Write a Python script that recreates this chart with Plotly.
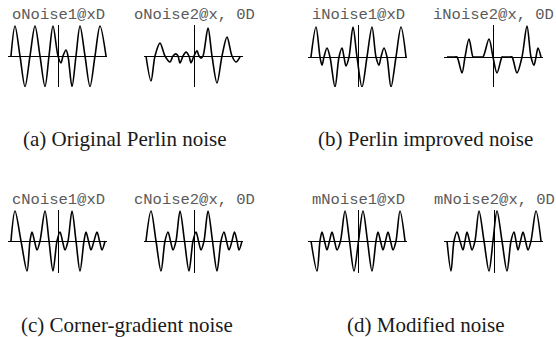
import plotly.graph_objects as go

W, H = 556, 337

# ---------------- data ----------------
# x: position along the noise axis (0 = vertical reference line); y: noise value (normalised)
onoise1_x = [-47, -43, -38, -33, -28, -23, -18, -13, -9, -5, 0, 3, 5, 8, 10, 14, 18, 22, 27, 32, 37, 42, 48]
onoise1_y = [0, 1, 0, -1.02, 0, 1, 0, -1.02, 0, 1, 0, -0.23, 0, 0.2, 0, -1.02, 0, 1, 0, -1.02, 0, 1, 0]

onoise2_x = [-48, -43, -39, -34, -29, -24, -21, -18, -16, -14, -11, -8, -5, -3, 0, 3, 5, 7, 9, 14, 18, 23, 28, 33, 38, 42, 46]
onoise2_y = [0, -0.83, 0, 0.43, 0, -0.2, 0, 0.07, 0, -0.23, 0, 0.13, 0, -0.23, 0, 0.17, 0, -0.07, 0, 0.93, 0, -0.9, 0, 0.63, 0, -0.2, -0.03]

inoise1_x = [-47, -42, -38, -36, -34, -31, -28, -23, -19, -16, -14, -12, -9, -5, -1, 4, 9, 14, 18, 21, 23, 26, 29, 33, 38, 43, 48]
inoise1_y = [0, 1, 0, -0.27, 0, 0.3, 0, -1, 0, 0.3, 0, -0.3, 0, 1, 0, -1, 0, 1, 0, -0.27, 0, 0.3, 0, -1, 0, 1, 0]

inoise2_x = [-46, -38, -36, -31, -28, -24, -20, -19, -12, -10, -4, 0, 4, 9, 10, 17, 19, 24, 29, 34, 38, 41, 43, 45, 48]
inoise2_y = [0, 0, 0, -0.53, 0, 0.6, 0, 0, 0, 0, 0.6, 0, -0.53, 0, 0, 0, 0, -0.53, 0, 1.03, 0, -0.27, 0, 0.3, 0]

cnoise1_x = [-47, -43, -37, -31, -28, -26, -23.5, -21, -18, -13, -9, -5, -1, 2, 4.5, 7, 10, 14, 18, 22, 26, 28, 30.5, 33, 36, 39, 41.5, 44, 47]
cnoise1_y = [0, 1, 0, -1, 0, 0.3, 0, -0.3, 0, 1, 0, -1, 0, 0.3, 0, -0.3, 0, 1, 0, -1, 0, 0.3, 0, -0.3, 0, 0.3, 0, -0.3, 0]

cnoise2_x = [-48, -43, -38, -33, -29, -26, -23.5, -21, -18, -14, -9.5, -5, -1, 2, 4.5, 7, 10, 14, 18.5, 23, 27, 30, 32.5, 35, 38, 40.5, 43, 45, 48]
cnoise2_y = [0, 1, 0, -1, 0, 0.3, 0, -0.3, 0, 1, 0, -1, 0, 0.3, 0, -0.3, 0, 1, 0, -1, 0, 0.3, 0, -0.3, 0, 0.3, 0, -0.3, 0]

mnoise1_x = [-47, -41, -38, -36, -33.5, -31, -28.5, -26, -23.5, -21, -17.5, -13, -8.5, -4, 0.5, 5, 9.5, 14, 18, 20, 22.5, 25, 27.5, 30, 32.5, 35, 38, 42, 47]
mnoise1_y = [0, -1, 0, 0.3, 0, -0.3, 0, 0.3, 0, -0.3, 0, 1, 0, -1, 0, 1, 0, -1, 0, 0.3, 0, -0.3, 0, 0.3, 0, -0.3, 0, 1, 0]

mnoise2_x = [-47, -43, -40, -37, -34, -31, -29, -27, -24.5, -22, -19, -15, -10, -5, -1, 3, 8, 13, 17, 20, 22, 24, 26.5, 29, 31.5, 34, 37, 42, 47]
mnoise2_y = [0, -1, 0, 0.3, 0, -0.3, 0, 0.3, 0, -0.3, 0, 1, 0, -1, 0, 1, 0, -1, 0, 0.3, 0, -0.3, 0, 0.3, 0, -0.3, 0, 1, 0]

titles = ["oNoise1@xD", "oNoise2@x, 0D", "iNoise1@xD", "iNoise2@x, 0D",
          "cNoise1@xD", "cNoise2@x, 0D", "mNoise1@xD", "mNoise2@x, 0D"]
captions = ["(a) Original Perlin noise", "(b) Perlin improved noise",
            "(c) Corner-gradient noise", "(d) Modified noise"]

series = [(onoise1_x, onoise1_y), (onoise2_x, onoise2_y), (inoise1_x, inoise1_y), (inoise2_x, inoise2_y),
          (cnoise1_x, cnoise1_y), (cnoise2_x, cnoise2_y), (mnoise1_x, mnoise1_y), (mnoise2_x, mnoise2_y)]

# ---------------- layout (pixel geometry of each panel) ----------------
# (left, right, top, bottom, zero-x pixel, zero-y pixel)
panels = [
    (8, 107, 25, 87, 58, 56),
    (144, 243, 25, 87, 194, 56),
    (308, 407, 25, 87, 358, 57),
    (444, 543, 25, 87, 493, 57),
    (8, 107, 210, 273, 58, 241),
    (144, 243, 210, 273, 194, 241),
    (308, 407, 210, 273, 358, 241),
    (444, 543, 210, 273, 494, 241),
]
AMP = 30.0  # pixels per unit of noise value

fig = go.Figure()
layout = dict(width=W, height=H, margin=dict(l=0, r=0, t=0, b=0),
              paper_bgcolor="white", plot_bgcolor="white", showlegend=False)
annotations = []

for i, ((xs, ys), (l, r, t, b, zx, zy)) in enumerate(zip(series, panels)):
    k = "" if i == 0 else str(i + 1)
    fig.add_trace(go.Scatter(x=xs, y=ys, mode="lines", xaxis="x" + k, yaxis="y" + k,
                             line=dict(color="black", width=1.6, shape="spline", smoothing=0.9),
                             hoverinfo="skip"))
    ax = dict(domain=[l / W, r / W], range=[l - zx, r - zx], showgrid=False, showticklabels=False,
              ticks="", zeroline=True, zerolinecolor="black", zerolinewidth=1, showline=False,
              anchor="y" + k, fixedrange=True)
    ay = dict(domain=[1 - b / H, 1 - t / H], range=[-(b - zy) / AMP, (zy - t) / AMP], showgrid=False,
              showticklabels=False, ticks="", zeroline=True, zerolinecolor="black", zerolinewidth=1,
              showline=False, anchor="x" + k, fixedrange=True)
    layout["xaxis" + k] = ax
    layout["yaxis" + k] = ay
    ty = 15 if t < 100 else 200
    annotations.append(dict(text=titles[i], x=zx / W, y=1 - ty / H, xref="paper", yref="paper",
                            showarrow=False, xanchor="center", yanchor="middle",
                            font=dict(family="Liberation Mono, Courier New, monospace", size=15.5, color="#5a5a5a")))

cap_pos = [(125, 139), (425, 139), (127, 325), (425, 325)]
for c, (cx, cy) in zip(captions, cap_pos):
    annotations.append(dict(text=c, x=cx / W, y=1 - cy / H, xref="paper", yref="paper", showarrow=False,
                            xanchor="center", yanchor="middle",
                            font=dict(family="Liberation Serif, Times New Roman, serif", size=21, color="#1a1a1a")))

layout["annotations"] = annotations
fig.update_layout(**layout)
fig.write_html("out.html", config={"displayModeBar": False},
               post_script="document.body.style.margin='0px';document.body.style.padding='0px';")
